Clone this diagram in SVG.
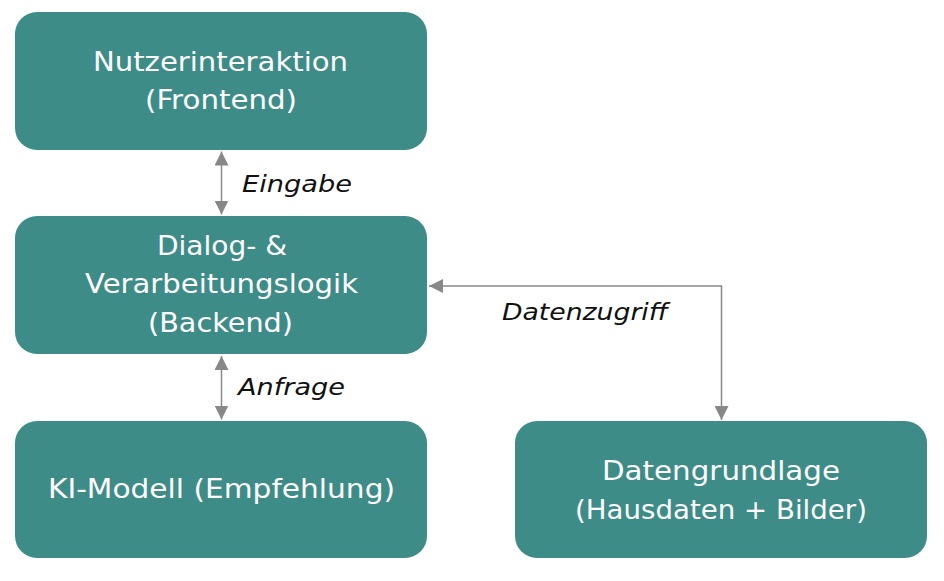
<svg xmlns="http://www.w3.org/2000/svg" width="944" height="581" viewBox="0 0 944 581">
<style>
.box{fill:#3e8c88;}
.t{font-family:"DejaVu Sans","Liberation Sans",sans-serif;font-size:26px;fill:#ffffff;}
.lbl{font-family:"DejaVu Sans","Liberation Sans",sans-serif;font-size:23px;font-style:italic;fill:#111111;}
.con{fill:none;stroke:#888888;stroke-width:1.5;}
</style>
<defs>
<marker id="ah" markerUnits="userSpaceOnUse" markerWidth="14" markerHeight="14" viewBox="0 0 14 14" refX="14" refY="7" orient="auto-start-reverse">
<path d="M0,0 L14,7 L0,14 z" fill="#888888"/>
</marker>
</defs>
<rect width="944" height="581" fill="#ffffff"/>
<g id="frontend">
<rect class="box" x="15" y="12" width="412" height="138" rx="22"/>
<text class="t" x="93" y="71" textLength="255" lengthAdjust="spacingAndGlyphs">Nutzerinteraktion</text>
<text class="t" x="145" y="109" textLength="152" lengthAdjust="spacingAndGlyphs">(Frontend)</text>
</g>
<g id="backend">
<rect class="box" x="15" y="216" width="412" height="138" rx="22"/>
<text class="t" x="157" y="255" textLength="130" lengthAdjust="spacingAndGlyphs">Dialog- &amp;</text>
<text class="t" x="85" y="293" textLength="273" lengthAdjust="spacingAndGlyphs">Verarbeitungslogik</text>
<text class="t" x="148" y="332" textLength="145" lengthAdjust="spacingAndGlyphs">(Backend)</text>
</g>
<g id="ki">
<rect class="box" x="15" y="421" width="412" height="137" rx="22"/>
<text class="t" x="48" y="498" textLength="347" lengthAdjust="spacingAndGlyphs">KI-Modell (Empfehlung)</text>
</g>
<g id="daten">
<rect class="box" x="515" y="421" width="412" height="137" rx="22"/>
<text class="t" x="602" y="480" textLength="238" lengthAdjust="spacingAndGlyphs">Datengrundlage</text>
<text class="t" x="575" y="519" textLength="292" lengthAdjust="spacingAndGlyphs">(Hausdaten + Bilder)</text>
</g>
<g id="connectors">
<line class="con" x1="221.5" y1="151.5" x2="221.5" y2="214.5" marker-start="url(#ah)" marker-end="url(#ah)"/>
<line class="con" x1="221.5" y1="356" x2="221.5" y2="419.5" marker-start="url(#ah)" marker-end="url(#ah)"/>
<path class="con" d="M721.5,420 V286 H429" marker-start="url(#ah)" marker-end="url(#ah)"/>
<text class="lbl" x="242" y="192" textLength="110" lengthAdjust="spacingAndGlyphs">Eingabe</text>
<text class="lbl" x="238" y="395" textLength="107" lengthAdjust="spacingAndGlyphs">Anfrage</text>
<text class="lbl" x="502" y="320" textLength="166" lengthAdjust="spacingAndGlyphs">Datenzugriff</text>
</g>
</svg>
